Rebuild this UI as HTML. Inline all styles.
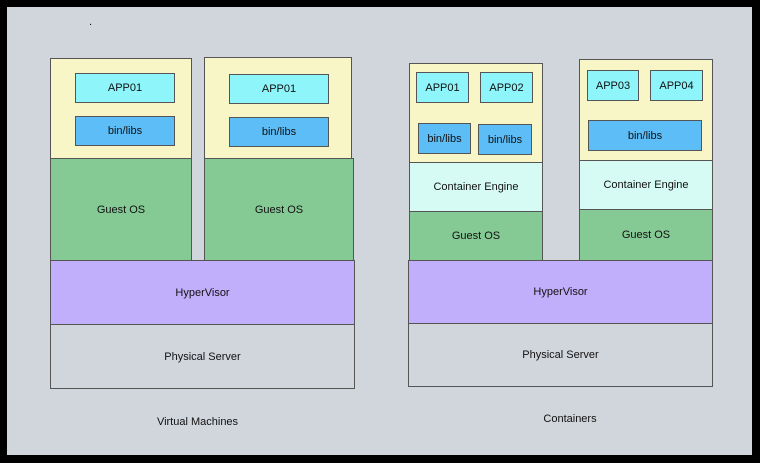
<!DOCTYPE html>
<html><head><meta charset="utf-8"><style>
html,body{margin:0;padding:0;}
body{width:760px;height:463px;background:#000;position:relative;overflow:hidden;font-family:"Liberation Sans",sans-serif;color:#111;}
#bg{position:absolute;left:7px;top:7px;width:745px;height:448px;background:#d1d5dc;}
.b{position:absolute;box-sizing:border-box;border:1px solid #555;display:flex;align-items:center;justify-content:center;font-size:11px;}
.y{background:#f8f6c6;}
.a{background:#8ef5fb;}
.l{background:#5cbdf7;}
.g{background:#85c994;}
.c{background:#d6fbf4;}
.h{background:#c2affc;}
.p{background:#d1d5dc;}
.t{position:absolute;font-size:11px;}
</style></head><body>
<div id="bg"></div>
<div class="t" style="left:89px;top:16px;">.</div>
<!-- VM1 -->
<div class="b y" style="left:50px;top:58px;width:142px;height:101px;"></div>
<div class="b a" style="left:75px;top:73px;width:100px;height:30px;">APP01</div>
<div class="b l" style="left:75px;top:116px;width:100px;height:30px;">bin/libs</div>
<div class="b g" style="left:50px;top:158px;width:142px;height:103px;">Guest OS</div>
<!-- VM2 -->
<div class="b y" style="left:204px;top:57px;width:148px;height:102px;"></div>
<div class="b a" style="left:229px;top:74px;width:100px;height:30px;">APP01</div>
<div class="b l" style="left:229px;top:117px;width:100px;height:30px;">bin/libs</div>
<div class="b g" style="left:204px;top:158px;width:150px;height:103px;">Guest OS</div>
<div class="b h" style="left:50px;top:260px;width:305px;height:65px;">HyperVisor</div>
<div class="b p" style="left:50px;top:324px;width:305px;height:65px;">Physical Server</div>
<div class="t" style="left:140px;top:416px;width:115px;text-align:center;">Virtual Machines</div>
<!-- C1 -->
<div class="b y" style="left:409px;top:63px;width:134px;height:100px;"></div>
<div class="b a" style="left:416px;top:72px;width:53px;height:31px;">APP01</div>
<div class="b a" style="left:480px;top:72px;width:53px;height:31px;">APP02</div>
<div class="b l" style="left:418px;top:123px;width:53px;height:31px;">bin/libs</div>
<div class="b l" style="left:478px;top:124px;width:54px;height:31px;">bin/libs</div>
<div class="b c" style="left:409px;top:162px;width:134px;height:50px;">Container Engine</div>
<div class="b g" style="left:409px;top:211px;width:134px;height:50px;">Guest OS</div>
<!-- C2 -->
<div class="b y" style="left:579px;top:59px;width:134px;height:102px;"></div>
<div class="b a" style="left:587px;top:70px;width:52px;height:31px;">APP03</div>
<div class="b a" style="left:650px;top:70px;width:53px;height:31px;">APP04</div>
<div class="b l" style="left:588px;top:120px;width:114px;height:31px;">bin/libs</div>
<div class="b c" style="left:579px;top:160px;width:134px;height:50px;">Container Engine</div>
<div class="b g" style="left:579px;top:209px;width:134px;height:52px;">Guest OS</div>
<div class="b h" style="left:408px;top:260px;width:305px;height:64px;">HyperVisor</div>
<div class="b p" style="left:408px;top:323px;width:305px;height:64px;">Physical Server</div>
<div class="t" style="left:520px;top:413px;width:100px;text-align:center;">Containers</div>
</body></html>
